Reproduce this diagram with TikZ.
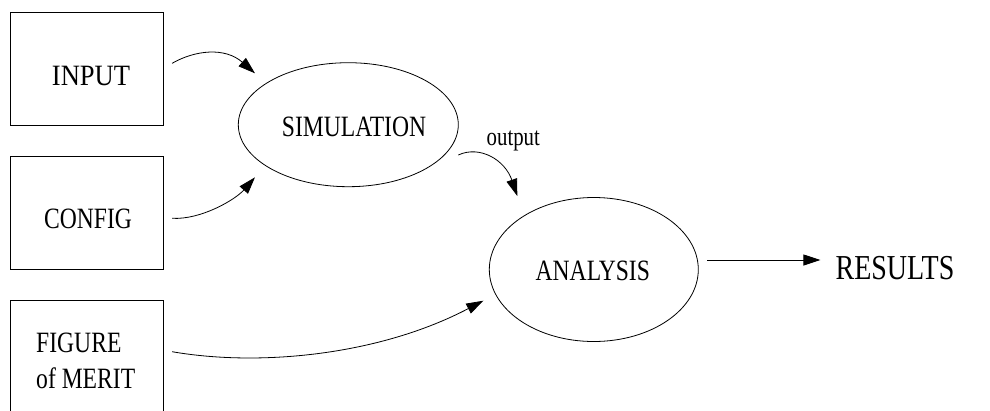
\documentclass[tikz,border=0pt]{standalone}
\usepackage{graphicx}
\usepackage{fontspec}
\setmainfont{Liberation Serif}
\usetikzlibrary{arrows.meta,shapes.geometric}
\newcommand{\nrw}[1]{\scalebox{0.8}[1]{#1}}
\tikzset{
  box/.style={draw, line width=0.8pt, minimum width=153pt, minimum height=113pt, inner sep=0pt},
  oval/.style={draw, ellipse, line width=0.8pt, inner sep=0pt},
  txt/.style={inner sep=0pt, font=\fontsize{29.5}{32}\selectfont},
  arr/.style={line width=0.8pt, -{Triangle[length=17pt,width=11pt]}},
}
\begin{document}
\begin{tikzpicture}[x=1pt,y=-1pt]
\clip (0,0) rectangle (990,410);
\fill[white] (0,0) rectangle (990,410);
% boxes
\node[box] (in) at (86.5,68.5) {};
\node[box] (cf) at (86.5,212.5) {};
\node[box] (fm) at (86.5,356.5) {};
\node[txt, anchor=base] (inT) at (91,85) {\scalebox{0.9}[1]{INPUT}};
\node[txt, anchor=base] (cfT) at (88,228) {\nrw{CONFIG}};
\node[txt, anchor=base west] (fmT1) at (36,352) {\nrw{FIGURE}};
\node[txt, anchor=base west] (fmT2) at (36,388) {\nrw{of MERIT}};
% ellipses
\node[oval, minimum width=220pt, minimum height=124pt] (sim) at (348.3,124.7) {};
\node[txt, anchor=base] (simT) at (354,136.7) {\nrw{SIMULATION}};
\node[oval, minimum width=209pt, minimum height=144pt] (ana) at (593.8,269.5) {};
\node[txt, anchor=base] (anaT) at (592.8,280.7) {\nrw{ANALYSIS}};
\node[inner sep=0pt, font=\fontsize{35}{38}\selectfont, anchor=base] (res) at (895,279.3) {\nrw{RESULTS}};
\node[inner sep=0pt, font=\fontsize{26}{28}\selectfont, anchor=base] (outL) at (513.3,145) {\nrw{output}};
% connectors
\draw[arr] ([shift={(8.7,-5.2)}]in.east) .. controls +(23.3,-13.3) and +(-30,-26.3) .. ([shift={(-93.3,-51.4)}]sim.center);
\draw[arr] ([shift={(8.7,5.8)}]cf.east) .. controls +(28.3,1.7) and +(-20,22.7) .. ([shift={(-93.3,52.6)}]sim.center);
\draw[arr] ([shift={(110,30.3)}]sim.center) .. controls +(21.7,-10) and +(-12.3,-36) .. ([shift={(-76.5,-73.5)}]ana.center);
\draw[arr] ([shift={(8.7,-4.8)}]fm.east) .. controls +(88.3,15.3) and +(-103.3,54.3) .. ([shift={(-110.5,31.2)}]ana.center);
\draw[arr] ([shift={(8.4,-9.5)}]ana.east) -- ([shift={(-15,-19.3)}]res.base west);
\end{tikzpicture}
\end{document}
